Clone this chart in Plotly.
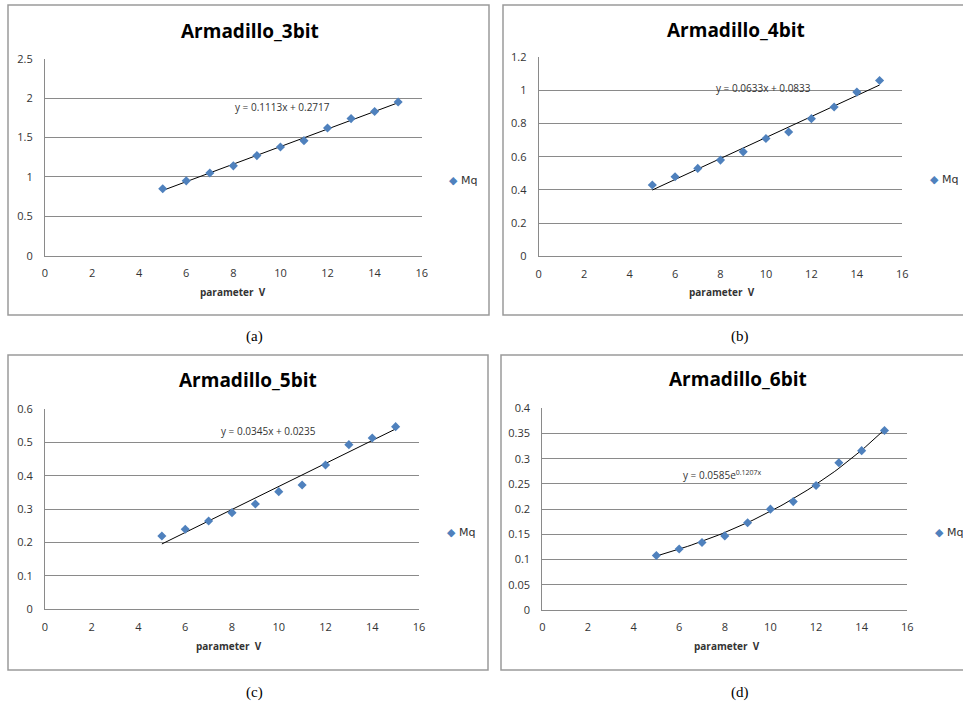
import numpy as np
import plotly.graph_objects as go

W, H = 963, 709

# ---- data ----
v = [5, 6, 7, 8, 9, 10, 11, 12, 13, 14, 15]
mq_3bit = [0.85, 0.95, 1.05, 1.14, 1.27, 1.38, 1.46, 1.62, 1.74, 1.83, 1.95]
mq_4bit = [0.43, 0.48, 0.53, 0.58, 0.63, 0.71, 0.75, 0.83, 0.90, 0.99, 1.06]
mq_5bit = [0.22, 0.24, 0.265, 0.29, 0.316, 0.353, 0.373, 0.433, 0.494, 0.514, 0.548]
mq_6bit = [0.108, 0.121, 0.134, 0.147, 0.173, 0.200, 0.215, 0.247, 0.292, 0.316, 0.356]

titles = ["Armadillo_3bit", "Armadillo_4bit", "Armadillo_5bit", "Armadillo_6bit"]
captions = ["(a)", "(b)", "(c)", "(d)"]
fit_lin = [(0.1113, 0.2717), (0.0633, 0.0833), (0.0345, 0.0235)]
fit_exp = (0.0585, 0.1207)
eq_texts = ["y = 0.1113x + 0.2717", "y = 0.0633x + 0.0833", "y = 0.0345x + 0.0235",
            "y = 0.0585e<sup>0.1207x</sup>"]
y_max = [2.5, 1.2, 0.6, 0.4]
y_dtick = [0.5, 0.2, 0.1, 0.05]
series_name = "Mq"
x_title = "parameter  V"

# ---- layout geometry (pixels) ----
plot_px = [  # x0, x1, ytop, ybottom
    (45, 421.7, 58.7, 255.7),
    (538.7, 902.3, 57.3, 256.3),
    (45, 419, 409.3, 609.3),
    (542.3, 907.3, 408.3, 610),
]
box_px = [(8, 489, 5, 315), (503, 966, 5, 315), (8, 488, 355, 670), (501, 966, 355, 670)]
title_px = [(250, 31), (736, 30), (248, 380), (738, 379)]
xtitle_px = [(233, 292), (722, 292), (229, 646), (727, 646)]
legend_px = [(447, 180), (928, 179), (445, 532), (933, 532)]
eq_data = [(10.07, 1.887), (9.87, 1.015), (9.54, 0.535), (7.92, 0.268)]
caption_px = [(254, 337), (740, 337), (254, 692), (740, 692)]

def px(x):
    return x / W

def py(y):
    return 1 - y / H

BLUE = "#4F81BD"
GRID = "#8A8A8A"
TXT = "#333333"

fig = go.Figure()
series = [mq_3bit, mq_4bit, mq_5bit, mq_6bit]
annotations = []
shapes = []

for i in range(4):
    sfx = "" if i == 0 else str(i + 1)
    xa, ya = "x" + sfx, "y" + sfx
    # trendline
    if i < 3:
        a, b = fit_lin[i]
        tx = np.array([v[0], v[-1]], dtype=float)
        ty = a * tx + b
    else:
        a, b = fit_exp
        tx = np.linspace(v[0], v[-1], 60)
        ty = a * np.exp(b * tx)
    fig.add_trace(go.Scatter(x=tx, y=ty, mode="lines", line=dict(color="black", width=1),
                             xaxis=xa, yaxis=ya, showlegend=False, hoverinfo="skip"))
    fig.add_trace(go.Scatter(x=v, y=series[i], mode="markers", name=series_name,
                             marker=dict(symbol="diamond", size=7, color=BLUE),
                             xaxis=xa, yaxis=ya, showlegend=False))
    x0, x1, yt, yb = plot_px[i]
    fig.update_layout(**{
        "xaxis" + sfx: dict(domain=[px(x0), px(x1)], anchor=ya, range=[0, 16], dtick=2,
                            showgrid=False, zeroline=False, showline=True, linecolor=GRID,
                            ticks="", ticklabelstandoff=7, automargin=False,
                            tickfont=dict(family="Open Sans", size=11, color=TXT)),
        "yaxis" + sfx: dict(domain=[py(yb), py(yt)], anchor=xa, range=[0, y_max[i]],
                            dtick=y_dtick[i], showgrid=True, gridcolor=GRID, gridwidth=1,
                            zeroline=False, showline=True, linecolor=GRID, automargin=False,
                            ticks="", ticklabelstandoff=9,
                            tickfont=dict(family="Open Sans", size=11, color=TXT)),
    })
    # chart box
    bx0, bx1, by0, by1 = box_px[i]
    shapes.append(dict(type="rect", xref="paper", yref="paper", x0=px(bx0), x1=px(bx1),
                       y0=py(by1), y1=py(by0), line=dict(color="#9A9A9A", width=1.5)))
    # title
    annotations.append(dict(text="<b>" + titles[i] + "</b>", xref="paper", yref="paper",
                            x=px(title_px[i][0]), y=py(title_px[i][1]), showarrow=False,
                            xanchor="center", yanchor="middle",
                            font=dict(family="Open Sans", size=19, color="black")))
    # x axis title
    annotations.append(dict(text="<b>" + x_title + "</b>", xref="paper", yref="paper",
                            x=px(xtitle_px[i][0]), y=py(xtitle_px[i][1]), showarrow=False,
                            xanchor="center", yanchor="middle",
                            font=dict(family="Open Sans", size=10, color=TXT)))
    # legend
    annotations.append(dict(text="<span style='color:%s'>◆</span> %s" % (BLUE, series_name),
                            xref="paper", yref="paper", x=px(legend_px[i][0]),
                            y=py(legend_px[i][1]), showarrow=False, xanchor="left",
                            yanchor="middle",
                            font=dict(family="DejaVu Sans", size=11, color=TXT)))
    # equation
    annotations.append(dict(text=eq_texts[i], xref=xa, yref=ya, x=eq_data[i][0],
                            y=eq_data[i][1], showarrow=False, xanchor="center",
                            yanchor="middle",
                            font=dict(family="Open Sans", size=10, color=TXT)))
    # caption
    annotations.append(dict(text=captions[i], xref="paper", yref="paper",
                            x=px(caption_px[i][0]), y=py(caption_px[i][1]), showarrow=False,
                            xanchor="center", yanchor="middle",
                            font=dict(family="Liberation Serif", size=15, color="black")))

fig.update_layout(width=W, height=H, margin=dict(l=0, r=0, t=0, b=0, pad=0, autoexpand=False),
                  paper_bgcolor="white", plot_bgcolor="white",
                  annotations=annotations, shapes=shapes, showlegend=False)
fig.write_html("out.html", config={"displayModeBar": False},
               post_script="document.body.style.margin='0';"
                           "document.body.style.overflow='hidden';")
